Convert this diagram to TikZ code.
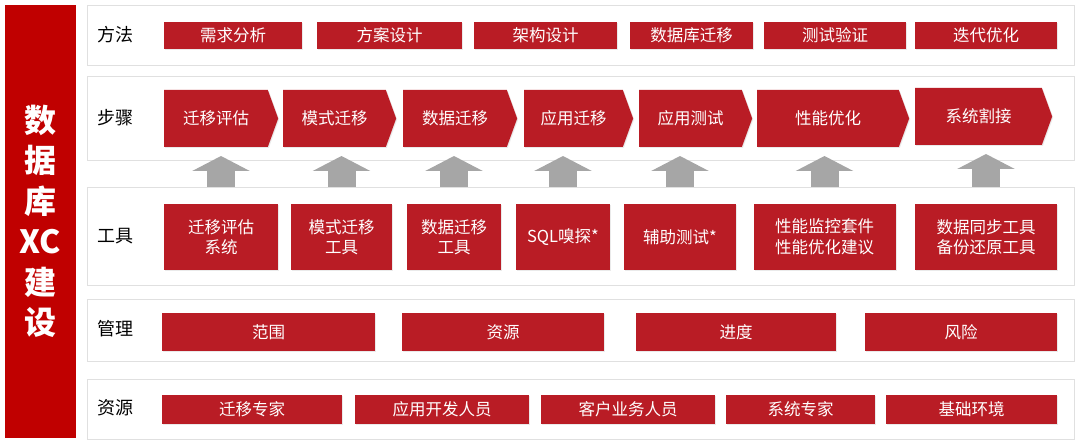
\documentclass[tikz,border=0pt]{standalone}
\usepackage{fontspec}
\setmainfont{Noto Sans CJK SC}
\usetikzlibrary{arrows.meta,shapes.symbols,shadows}
\definecolor{boxred}{RGB}{185,28,37}
\definecolor{barred}{RGB}{192,0,0}
\definecolor{upgray}{RGB}{166,166,166}
\definecolor{panelline}{RGB}{224,224,224}

\begin{document}
\begin{tikzpicture}[
        x=1pt, y=-1pt,
        every node/.style={inner sep=0pt, outer sep=0pt},
        panel/.style={draw=panelline, fill=white, line width=0.8pt, minimum width=987pt,
                      drop shadow={shadow xshift=0.6pt, shadow yshift=-1pt, opacity=0.3, fill=black!25}},
        rowlabel/.style={font=\fontsize{18}{18}\selectfont},
        cell/.style={fill=boxred, text=white, align=center, font=\fontsize{16.5}{20.5}\selectfont,
                     drop shadow={shadow xshift=1pt, shadow yshift=-1pt, opacity=0.2, fill=black!40}},
        stepbox/.style={cell, signal, signal to=east, signal pointer angle=140, minimum height=57pt},
        titlebar/.style={fill=barred, text=white, align=center, minimum width=71pt, minimum height=433pt,
                         font=\fontsize{32}{40.5}\selectfont\bfseries},
        uparr/.style={draw=upgray, line width=28pt, -{Triangle[length=15pt, width=57pt]},
                      shorten <=17pt, shorten >=9pt}
    ]
        \useasboundingbox (0,0) rectangle (1080,443);

        % left title bar
        \node[titlebar] (title) at (40.5,221.5) {数\\据\\库\\XC\\建\\设};

        % row panels
        \node[panel, minimum height=60pt] (p1) at (580.5,35) {};
        \node[panel, minimum height=84pt] (p2) at (580.5,118) {};
        \node[panel, minimum height=98pt] (p3) at (580.5,236) {};
        \node[panel, minimum height=62pt] (p4) at (580.5,330) {};
        \node[panel, minimum height=60pt] (p5) at (580.5,409) {};

        \node[rowlabel] (l1) at (115,35) {方法};
        \node[rowlabel] (l2) at (115,118) {步骤};
        \node[rowlabel] (l3) at (115,236) {工具};
        \node[rowlabel] (l4) at (115,329) {管理};
        \node[rowlabel] (l5) at (115,408) {资源};

        % methods
        \node[cell, minimum width=138pt, minimum height=27pt] (m1) at (233,35.5) {需求分析};
        \node[cell, minimum width=145pt, minimum height=27pt] (m2) at (389.5,35.5) {方案设计};
        \node[cell, minimum width=143pt, minimum height=27pt] (m3) at (545.5,35.5) {架构设计};
        \node[cell, minimum width=123pt, minimum height=27pt] (m4) at (691.5,35.5) {数据库迁移};
        \node[cell, minimum width=142pt, minimum height=27pt] (m5) at (835,35.5) {测试验证};
        \node[cell, minimum width=142pt, minimum height=27pt] (m6) at (986,35.5) {迭代优化};

        % steps
        \node[stepbox, minimum width=114pt] (s1) at (216,118.5) {迁移评估};
        \node[stepbox, minimum width=113pt] (s2) at (334.5,118.5) {模式迁移};
        \node[stepbox, minimum width=114pt] (s3) at (455,118.5) {数据迁移};
        \node[stepbox, minimum width=109pt] (s4) at (573.5,118.5) {应用迁移};
        \node[stepbox, minimum width=113pt] (s5) at (690.5,118.5) {应用测试};
        \node[stepbox, minimum width=152pt] (s6) at (828,118.5) {性能优化};
        \node[stepbox, minimum width=137pt] (s7) at (978.5,116.5) {系统割接};

        % tools
        \node[cell, minimum width=114pt, minimum height=66pt] (t1) at (221,237) {迁移评估\\系统};
        \node[cell, minimum width=101pt, minimum height=66pt] (t2) at (341.5,237) {模式迁移\\工具};
        \node[cell, minimum width=94pt, minimum height=66pt] (t3) at (454,237) {数据迁移\\工具};
        \node[cell, minimum width=94pt, minimum height=66pt] (t4) at (563,237) {SQL嗅探*};
        \node[cell, minimum width=112pt, minimum height=66pt] (t5) at (680,237) {辅助测试*};
        \node[cell, minimum width=142pt, minimum height=66pt] (t6) at (824.5,237) {性能监控套件\\性能优化建议};
        \node[cell, minimum width=142pt, minimum height=66pt] (t7) at (986,237) {数据同步工具\\备份还原工具};

        % management
        \node[cell, minimum width=213pt, minimum height=38pt] (g1) at (268.5,332) {范围};
        \node[cell, minimum width=202pt, minimum height=38pt] (g2) at (503,332) {资源};
        \node[cell, minimum width=200pt, minimum height=38pt] (g3) at (736,332) {进度};
        \node[cell, minimum width=192pt, minimum height=38pt] (g4) at (961,332) {风险};

        % resources
        \node[cell, minimum width=180pt, minimum height=29pt] (r1) at (252,409.5) {迁移专家};
        \node[cell, minimum width=174pt, minimum height=29pt] (r2) at (442,409.5) {应用开发人员};
        \node[cell, minimum width=174pt, minimum height=29pt] (r3) at (628,409.5) {客户业务人员};
        \node[cell, minimum width=149pt, minimum height=29pt] (r4) at (800.5,409.5) {系统专家};
        \node[cell, minimum width=171pt, minimum height=29pt] (r5) at (971.5,409.5) {基础环境};

        % tools feed the steps
        \draw[uparr] (t1.north) -- (t1.north |- s1.south);
        \draw[uparr] (t2.north) -- (t2.north |- s2.south);
        \draw[uparr] (t3.north) -- (t3.north |- s3.south);
        \draw[uparr] (t4.north) -- (t4.north |- s4.south);
        \draw[uparr] (t5.north) -- (t5.north |- s5.south);
        \draw[uparr] (t6.north) -- (t6.north |- s6.south);
        \draw[uparr] (t7.north) -- (t7.north |- s7.south);
    \end{tikzpicture}
\end{document}
